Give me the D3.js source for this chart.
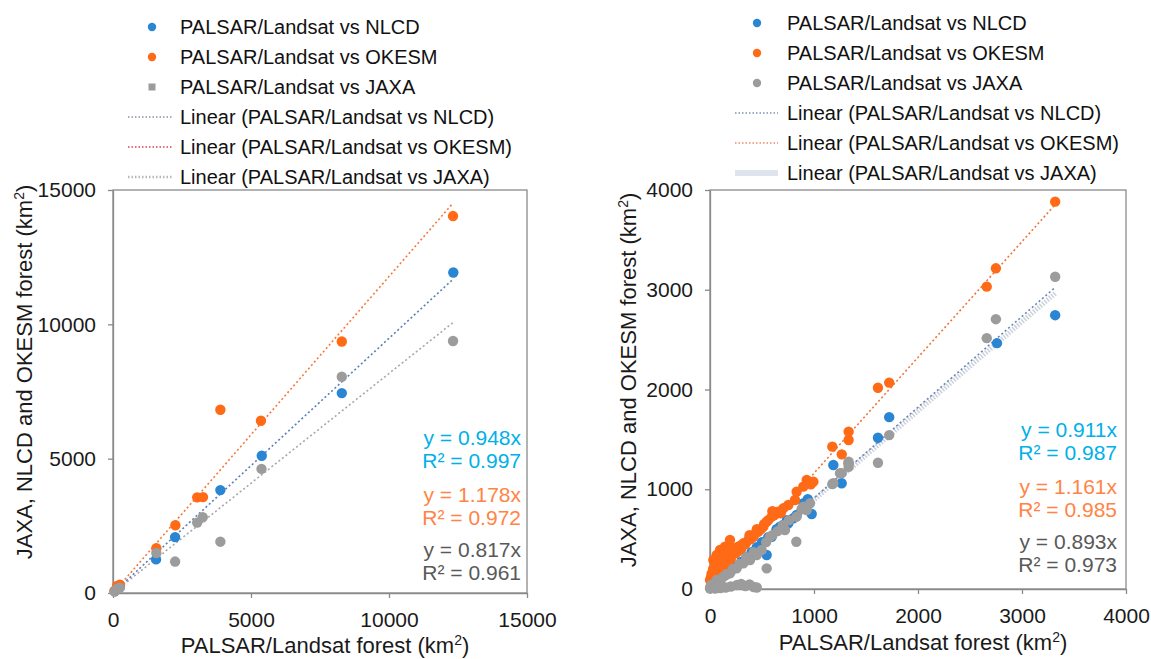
<!DOCTYPE html>
<html><head><meta charset="utf-8">
<script src="https://cdn.jsdelivr.net/npm/d3@7"></script>
<style>body{margin:0;background:#fff}svg{display:block}text{font-family:"Liberation Sans",Arial,sans-serif}</style>
</head><body><svg id="c" width="1151" height="659"></svg>
<script>
// ---------- DATA ----------
const seriesNames = ["PALSAR/Landsat vs NLCD","PALSAR/Landsat vs OKESM","PALSAR/Landsat vs JAXA"];
const trendNames = ["Linear (PALSAR/Landsat vs NLCD)","Linear (PALSAR/Landsat vs OKESM)","Linear (PALSAR/Landsat vs JAXA)"];

const leftTicks = [0,5000,10000,15000];
const rightTicks = [0,1000,2000,3000,4000];

// Left panel
const leftNLCD = [[60,70],[150,190],[250,240],[1560,1250],[2250,2080],[3890,3830],[5390,5110],[8290,7440],[12330,11930]];
const leftOKESM = [[60,90],[150,260],[250,310],[1570,1670],[2260,2520],[3050,3560],[3260,3570],[3890,6820],[5360,6410],[8290,9360],[12320,14030]];
const leftJAXA = [[60,50],[150,160],[250,200],[1570,1490],[2250,1170],[3050,2620],[3250,2820],[3890,1910],[5380,4620],[8290,8050],[12320,9380]];
const leftSlopes = [0.948,1.178,0.817];
const leftR2 = [0.997,0.972,0.961];

// Right panel
const rightNLCD = [[3319,2745],[2760,2465],[1723,1723],[1615,1516],[1186,1243],[1266,1060],[978,752],[833,742],[801,709],[753,659],[673,625],[593,524],[545,341],[940,900],[900,860],[740,690],[700,640],[640,600],[560,520],[500,470],[450,420],[400,370],[350,320],[300,270],[250,230],[200,180],[150,140],[100,90],[60,55],[30,25]];
const rightOKESM = [[3319,3883],[2749,3215],[2661,3031],[1723,2069],[1615,2018],[1333,1577],[1333,1494],[1176,1427],[1267,1350],[930,1093],[994,1076],[897,1026],[970,1050],[833,975],[817,892],[753,842],[705,809],[657,775],[593,725],[545,675],[513,625],[465,575],[417,524],[369,491],[321,458],[272,424],[224,391],[192,491],[144,424],[96,391],[64,341],[32,291],[48,224],[16,157],[0,90],[5,23],[680,760],[620,740],[600,780],[560,690],[520,650],[490,600],[450,600],[440,560],[390,500],[380,540],[340,450],[300,400],[300,440],[260,380],[250,360],[230,410],[200,300],[180,320],[170,260],[160,350],[130,220],[120,270],[110,300],[100,170],[80,200],[70,120],[60,250],[40,70],[30,200],[20,40],[10,120]];
const rightJAXA = [[3319,3130],[2749,2705],[2661,2515],[1723,1543],[1615,1266],[1333,1276],[1333,1226],[1267,1162],[1176,1052],[1330,1260],[1250,1160],[1186,1060],[962,859],[897,825],[930,792],[880,800],[833,725],[760,690],[721,591],[700,640],[650,580],[600,540],[577,524],[540,470],[830,474],[545,207],[497,391],[449,341],[420,370],[385,291],[350,320],[321,258],[280,250],[256,207],[220,200],[192,157],[160,150],[128,124],[100,95],[64,90],[40,30],[10,40],[0,5],[260,40],[300,50],[340,30],[380,45],[420,20],[450,15],[200,25],[150,15],[100,10],[50,5]];
const rightSlopes = [0.911,1.161,0.893];
const rightR2 = [0.987,0.985,0.973];

// ---------- STYLE ----------
const markerColors = ["#2a85d3","#ff6a16","#9c9c9c"];
const textColors = ["#00b0e8","#ff8445","#595959"];
const FONT = '"Liberation Sans",Arial,sans-serif';
const svg = d3.select("#c");

function panel(cfg){
  const {x,y,ticks,data,slopes,r2,yTitleX,yTitleY,xTitleY,annX,annY,legend,lineStyles,legendLine,legendGraySquare} = cfg;
  const g = svg.append("g");
  const [x0,x1] = x.range(), [y0,y1] = y.range();
  g.append("rect").attr("x",x0).attr("y",y1).attr("width",x1-x0).attr("height",y0-y1)
    .attr("fill","none").attr("stroke","#8a8a8a").attr("stroke-width",1.3);
  const ax = g.append("g").attr("transform",`translate(0,${y0})`)
    .call(d3.axisBottom(x).tickValues(ticks).tickSize(5).tickSizeOuter(0).tickPadding(14).tickFormat(d3.format("d")));
  const ay = g.append("g").attr("transform",`translate(${x0},0)`)
    .call(d3.axisLeft(y).tickValues(ticks).tickSize(5).tickSizeOuter(0).tickPadding(12).tickFormat(d3.format("d")));
  [ax,ay].forEach(a=>{
    a.select(".domain").attr("stroke","#8a8a8a").attr("stroke-width",1.3);
    a.selectAll(".tick line").attr("stroke","#8a8a8a").attr("stroke-width",1.3);
    a.selectAll(".tick text").attr("font-family",FONT).attr("font-size",21).attr("fill","#1a1a1a");
  });
  // trend lines (drawn in reverse so the JAXA band sits beneath the NLCD dots)
  [2,1,0].forEach(i=>{
    const d = data[i];
    const xmax = d3.max(d,p=>p[0]);
    const ls = lineStyles[i];
    g.append("line").attr("x1",x(0)).attr("y1",y(0)).attr("x2",x(xmax)).attr("y2",y(slopes[i]*xmax))
      .attr("stroke",ls.color).attr("stroke-width",ls.width).attr("stroke-dasharray",ls.dash)
      .attr("opacity",ls.opacity||1);
  });
  data.forEach((d,i)=>{
    g.append("g").selectAll("circle").data(d).join("circle")
      .attr("cx",p=>x(p[0])).attr("cy",p=>y(p[1])).attr("r",5.2).attr("fill",markerColors[i]);
  });
  const annOff = [0,23,57,80,112,135];
  data.forEach((d,i)=>{
    g.append("text").attr("x",annX).attr("y",annY+annOff[i*2]).attr("text-anchor","end").attr("dy","0.35em")
      .attr("font-size",21).attr("fill",textColors[i]).text(`y = ${slopes[i].toFixed(3)}x`);
    g.append("text").attr("x",annX).attr("y",annY+annOff[i*2+1]).attr("text-anchor","end").attr("dy","0.35em")
      .attr("font-size",21).attr("fill",textColors[i]).text(`R² = ${r2[i].toFixed(3)}`);
  });
  const xt = g.append("text").attr("x",(x0+x1)/2+5).attr("y",xTitleY).attr("dy","0.35em").attr("text-anchor","middle")
    .attr("font-size",22).attr("fill","#1a1a1a");
  xt.append("tspan").text("PALSAR/Landsat forest (km");
  xt.append("tspan").attr("font-size",14).attr("dy",-8).text("2");
  xt.append("tspan").attr("dy",8).text(")");
  const yt = g.append("text").attr("transform",`translate(${yTitleX},${yTitleY}) rotate(-90)`).attr("dy","0.35em")
    .attr("text-anchor","middle").attr("font-size",22).attr("fill","#1a1a1a");
  yt.append("tspan").text("JAXA, NLCD and OKESM forest (km");
  yt.append("tspan").attr("font-size",14).attr("dy",-8).text("2");
  yt.append("tspan").attr("dy",8).text(")");
  const lg = g.append("g");
  const names = seriesNames.concat(trendNames);
  names.forEach((n,k)=>{
    const ry = legend.y + k*30;
    lg.append("text").attr("x",legend.textX).attr("y",ry).attr("dy","0.35em").attr("font-size",20).attr("fill","#111").text(n);
    if(k<3){
      if(k===2 && legendGraySquare){
        lg.append("rect").attr("x",legend.markX-3.5).attr("y",ry-3.5).attr("width",7).attr("height",7).attr("fill",markerColors[k]);
      } else {
        lg.append("circle").attr("cx",legend.markX).attr("cy",ry).attr("r",4.2).attr("fill",markerColors[k]);
      }
    } else {
      const ls = legendLine[k-3];
      lg.append("line").attr("x1",legend.lineX0).attr("x2",legend.lineX1).attr("y1",ry).attr("y2",ry)
        .attr("stroke",ls.color).attr("stroke-width",ls.width).attr("stroke-dasharray",ls.dash).attr("opacity",ls.opacity||1);
    }
  });
}

panel({
  x: d3.scaleLinear().domain([0,15000]).range([113,527]),
  y: d3.scaleLinear().domain([0,15000]).range([593,190]),
  ticks: leftTicks,
  data: [leftNLCD,leftOKESM,leftJAXA],
  slopes: leftSlopes, r2: leftR2,
  yTitleX: 24, yTitleY: 372, xTitleY: 645,
  annX: 521, annY: 438,
  legend: {y:27, textX:180, markX:152, lineX0:128, lineX1:172},
  lineStyles: [
    {color:"#5a7fb8",width:1.6,dash:"2,2.5"},
    {color:"#f57a3c",width:1.6,dash:"2,2.5"},
    {color:"#a8a8a8",width:1.6,dash:"2,2.5"}],
  legendLine: [
    {color:"#8a93a6",width:1.4,dash:"1.5,2"},
    {color:"#e5707a",width:1.8,dash:"1.5,2"},
    {color:"#b8b8b8",width:2.5,dash:"1.5,2"}],
  legendGraySquare: true
});

panel({
  x: d3.scaleLinear().domain([0,4000]).range([710,1126]),
  y: d3.scaleLinear().domain([0,4000]).range([589,190]),
  ticks: rightTicks,
  data: [rightNLCD,rightOKESM,rightJAXA],
  slopes: rightSlopes, r2: rightR2,
  yTitleX: 628, yTitleY: 380, xTitleY: 642,
  annX: 1117, annY: 430,
  legend: {y:23, textX:787, markX:757, lineX0:735, lineX1:778},
  lineStyles: [
    {color:"#6a86b8",width:1.6,dash:"2,2.5"},
    {color:"#f0743a",width:1.6,dash:"2,2.5"},
    {color:"#c3cad6",width:5,dash:"1.5,1.5",opacity:0.85}],
  legendLine: [
    {color:"#7f93b3",width:1.5,dash:"1.5,2"},
    {color:"#e98a6a",width:1.5,dash:"1.5,2"},
    {color:"#dfe4ec",width:6,dash:null}],
  legendGraySquare: false
});
</script></body></html>
